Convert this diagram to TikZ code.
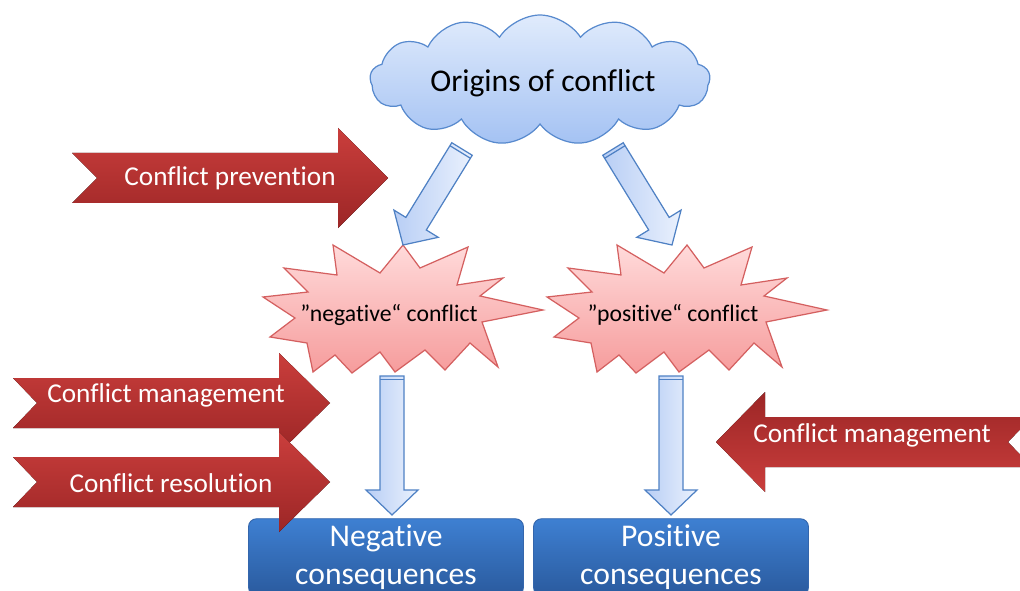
\documentclass[tikz,border=0pt]{standalone}
\usepackage{fontspec}
\setmainfont{Carlito}[Ligatures=NoCommon]
\usetikzlibrary{shapes.symbols,calc}
\definecolor{cloudtop}{RGB}{224,235,252}
\definecolor{cloudbot}{RGB}{164,194,243}
\definecolor{cloudline}{RGB}{88,138,206}
\definecolor{burstline}{RGB}{212,96,96}
\definecolor{bursttop}{RGB}{255,218,218}
\definecolor{burstbot}{RGB}{246,156,156}
\definecolor{redtop}{RGB}{202,62,60}
\definecolor{redbot}{RGB}{156,38,38}
\definecolor{boxtop}{RGB}{62,128,210}
\definecolor{boxbot}{RGB}{42,90,158}
\definecolor{boxline}{RGB}{52,102,172}
\definecolor{arrleft}{RGB}{184,206,245}
\definecolor{arrright}{RGB}{234,241,253}
\definecolor{arrline}{RGB}{79,129,196}
\tikzset{ %styles
    origin/.style={cloud, cloud puffs=13, cloud puff arc=115, aspect=2.6,
        draw=cloudline, top color=cloudtop, bottom color=cloudbot, line width=0.7pt,
        minimum width=6.8cm, minimum height=2.6cm, font=\fontsize{18}{21}\selectfont},
    burst/.style={draw=burstline, top color=bursttop, bottom color=burstbot,
        line width=0.7pt, line join=miter},
    bursttext/.style={font=\fontsize{13.5}{16}\selectfont},
    redarrow/.style={top color=redtop, bottom color=redbot},
    redarrowflip/.style={top color=redbot, bottom color=redtop},
    redtext/.style={text=white, font=\fontsize{15.5}{18}\selectfont},
    result/.style={rounded corners=0.16cm, top color=boxtop, bottom color=boxbot,
        draw=boxline, line width=0.5pt, text=white, align=center,
        minimum width=5.5cm, minimum height=1.5cm, font=\fontsize{18}{21.6}\selectfont},
    bluearrow/.style={left color=arrleft, right color=arrright, draw=arrline,
        line width=0.7pt, line join=miter},
    burstpic/.pic={
        \draw[burst] (0,-63) -- (17,-40) -- (65,-61) -- (54,-23) -- (100,-30) -- (77,-12)
            -- (140,2) -- (79,14) -- (95,59) -- (67,35) -- (42,62) -- (22,42) -- (-8,64)
            -- (-23,44) -- (-51,65) -- (-68,47) -- (-90,64) -- (-96,35) -- (-133,29)
            -- (-108,10) -- (-140,-11) -- (-95,-16) -- (-119,-40) -- (-66,-33) -- (-70,-63)
            -- (-23,-35) -- cycle;
    },
}
% block arrow from #1 to #2
\newcommand{\blockarrow}[2]{
    \coordinate (hb) at ($(#2)!0.5cm!(#1)$);
    \coordinate (st) at ($(#1)!0.07cm!(#2)$);
    \draw[bluearrow] ($(#1)!0.24cm!90:(#2)$) -- ($(hb)!0.24cm!90:(#2)$)
        -- ($(hb)!0.52cm!90:(#2)$) -- (#2) -- ($(hb)!0.52cm!-90:(#2)$)
        -- ($(hb)!0.24cm!-90:(#2)$) -- ($(#1)!0.24cm!-90:(#2)$) -- cycle;
    \draw[arrline, line width=0.7pt] ($(st)!0.24cm!90:(#2)$) -- ($(st)!0.24cm!-90:(#2)$);
}
% red arrow: tail x, head base x, tip x, centre y, notch
\newcommand{\redshape}[6]{
    \fill[#6] (#1,#4-25) -- (#2,#4-25) -- (#2,#4-50) -- (#3,#4) -- (#2,#4+50)
        -- (#2,#4+25) -- (#1,#4+25) -- (#1+#5,#4) -- cycle;
}

\begin{document}
\begin{tikzpicture}[x=0.02cm, y=-0.02cm]
    \useasboundingbox (0,0) rectangle (1020,591);
    \clip (0,0) rectangle (1020,591);
    % results
    \node[result] (negres) at (386,557) {Negative\\consequences};
    \node[result] (posres) at (671,557) {Positive\\consequences};
    % conflicts
    \foreach \cx/\nm/\txt in {403/neg/{”negative“ conflict}, 687/pos/{”positive“ conflict}}{
        \pic at (\cx,308) {burstpic};
        \node[bursttext] (\nm) at (\cx-14,315) {\txt};
    }
    \node[origin] (origins) at (540,80) {};
    \node[font=\fontsize{18}{21}\selectfont] (origtext) at (543,83) {Origins of conflict};
    % blue arrows
    \coordinate (negin) at (462,149);
    \coordinate (negtip) at (403,245);
    \coordinate (posin) at (613,149);
    \coordinate (postip) at (672,245);
    \coordinate (negout) at (392,376);
    \coordinate (negend) at (392,515);
    \coordinate (posout) at (671,376);
    \coordinate (posend) at (671,515);
    \blockarrow{negin}{negtip}
    \blockarrow{posin}{postip}
    \blockarrow{negout}{negend}
    \blockarrow{posout}{posend}
    % red arrows
    \redshape{72}{338}{388}{178}{25}{redarrow}
    \node[redtext] (prevent) at (230,178) {Conflict prevention};
    \redshape{13}{279}{330}{403}{24}{redarrow}
    \node[redtext] (manage) at (166,395) {Conflict management};
    \redshape{13}{279}{330}{482}{24}{redarrow}
    \node[redtext] (resolve) at (171,483) {Conflict resolution};
    \redshape{1032}{765}{716}{442}{-24}{redarrowflip}
    \node[redtext] (manage2) at (872,435) {Conflict management};
\end{tikzpicture}
\end{document}
